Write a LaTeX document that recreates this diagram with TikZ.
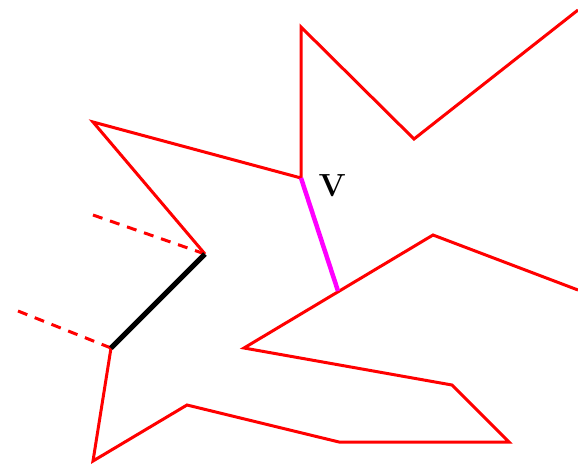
\documentclass[tikz,border=0pt]{standalone}
\usepackage{tikz}
\usetikzlibrary{positioning}
\definecolor{cutpink}{RGB}{255,0,255}
\definecolor{edgered}{RGB}{255,0,0}

\begin{document}
\begin{tikzpicture}[
        x=1pt, y=-1pt,
        edge/.style={edgered, line width=3pt, line join=miter},
        hidden/.style={edgered, line width=3pt, dash pattern=on 10pt off 8pt},
        bridge/.style={black, line width=5pt},
        cut/.style={cutpink, line width=4.5pt}
    ]
        \useasboundingbox (0,0) rectangle (578,464);

        % vertices of the polygon
        \coordinate (a) at (578,10);
        \coordinate (b) at (414,139);
        \coordinate (c) at (301,27);
        \coordinate (v) at (301,178);
        \coordinate (d) at (93,122);
        \coordinate (e) at (205,254);
        \coordinate (f) at (111,348);
        \coordinate (g) at (93,461);
        \coordinate (h) at (187,405);
        \coordinate (i) at (339,442);
        \coordinate (j) at (509,442);
        \coordinate (k) at (452,385);
        \coordinate (l) at (244,348);
        \coordinate (m) at (433,235);
        \coordinate (n) at (578,290);
        \coordinate (w) at (338,291);
        \coordinate (e0) at (93,215);
        \coordinate (f0) at (18,311);

        \draw[edge] (a) -- (b) -- (c) -- (v) -- (d) -- (e);
        \draw[edge] (f) -- (g) -- (h) -- (i) -- (j) -- (k) -- (l) -- (m) -- (n);
        \draw[hidden] (e0) -- (e);
        \draw[hidden] (f0) -- (f);
        \draw[bridge] (e) -- (f);
        \draw[cut] (v) -- (w);

        \node[font=\fontsize{32}{32}\selectfont\bfseries, right=14pt of v, yshift=-8pt] (vlabel) {V};
\end{tikzpicture}
\end{document}
